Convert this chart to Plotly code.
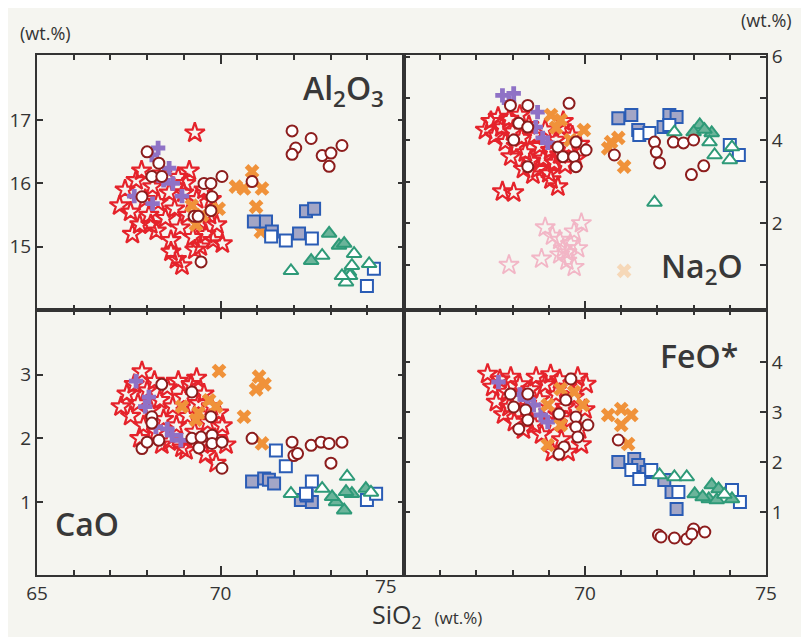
import plotly.graph_objects as go

# ---------------- data ----------------
# Al2O3 panel
al_star = [(67.25,15.65),(67.4,15.9),(67.55,15.55),(67.7,16.05),(67.8,15.35),(67.85,16.2),(67.95,15.75),(68.05,15.5),
           (68.15,15.95),(68.25,15.25),(68.3,15.7),(68.4,16.15),(68.5,15.45),(68.6,15.85),(68.65,15.1),(68.75,15.6),
           (68.85,16.1),(68.9,15.3),(69.0,15.85),(69.1,15.5),(69.15,16.2),(69.25,15.15),(69.35,15.75),(69.45,15.4),
           (69.55,15.9),(69.6,15.2),(69.7,15.5),(69.8,15.1),(69.9,15.35),(70.05,15.05),(69.3,14.95),(69.45,15.0),
           (68.8,14.8),(68.65,14.92),(68.95,14.7),(69.3,16.8),(67.6,15.2),(68.1,15.35),(69.75,15.75),(69.05,16.0)]
al_purple = [(68.3,16.56),(68.13,16.45),(68.6,16.24),(68.7,16.0),(68.95,15.8),(67.65,15.8),(68.15,15.68),(68.45,16.05)]
al_orange = [(69.22,15.65),(69.95,15.6),(69.33,15.35),(69.5,15.5),(70.86,16.19),(70.64,15.92),(71.13,15.92),
             (70.97,15.63),(71.1,15.24),(70.42,15.95)]
al_circle = [(68.0,16.5),(68.32,16.32),(68.13,16.11),(68.4,16.11),(67.86,15.79),(70.04,16.11),(69.55,16.0),(69.74,16.0),
             (69.77,15.79),(69.74,15.57),(69.28,15.48),(69.39,15.48),(69.47,14.76),(70.86,16.03),
             (71.95,16.83),(72.47,16.71),(72.05,16.56),(71.95,16.46),(72.77,16.44),(73.01,16.48),(73.31,16.6),(72.96,16.27)]
al_sq_fill = [(72.33,15.56),(72.55,15.6),(70.91,15.4),(71.24,15.4),(71.4,15.24),(72.14,15.21)]
al_sq_open = [(71.38,15.16),(71.78,15.1),(72.49,15.13),(74.18,14.65),(73.99,14.38)]
al_tri_fill = [(72.96,15.21),(73.23,15.02),(73.37,15.05),(72.47,14.78),(73.5,14.6)]
al_tri_open = [(71.92,14.62),(72.77,14.86),(73.64,14.89),(73.58,14.7),(73.53,14.54),(73.42,14.44),(74.05,14.73),(73.31,14.54)]

# Na2O panel
na_star = [(67.25,4.24),(67.4,4.45),(67.5,4.1),(67.6,4.55),(67.7,4.3),(67.8,3.95),(67.9,4.5),(68.0,4.2),(68.1,3.85),
           (68.2,4.6),(68.25,4.05),(68.35,3.7),(68.45,4.35),(68.5,3.5),(68.6,4.1),(68.7,3.3),(68.75,3.85),(68.85,3.55),
           (68.9,4.25),(69.0,3.2),(69.05,3.75),(69.15,3.45),(69.2,4.0),(69.3,3.65),(69.35,4.3),(69.45,3.4),(69.55,3.85),
           (69.65,4.1),(69.75,3.55),(69.85,3.9),(68.56,3.17),(69.06,3.05),(69.25,2.88),(67.72,2.76),(68.03,2.74),
           (68.3,3.3),(67.95,3.6),(69.4,4.45)]
na_purple = [(67.72,5.07),(68.03,5.12),(68.69,4.67),(68.64,4.31),(68.83,4.05),(68.97,3.93),(67.9,4.9)]
na_orange = [(69.06,4.6),(69.33,4.48),(69.97,4.24),(70.72,3.95),(70.92,4.05),(71.08,3.36),(70.64,3.8),(69.2,4.3),(69.6,4.0)]
na_circle = [(67.94,4.83),(68.42,4.83),(68.17,4.4),(68.42,4.31),(68.03,4.0),(69.56,4.88),(69.75,3.95),(70.03,3.76),
             (69.25,3.83),(69.39,3.6),(69.69,3.6),(69.75,3.36),(68.42,3.36),(70.81,3.64),(71.92,3.95),(71.97,3.71),
             (72.06,3.45),(72.44,3.95),(72.72,3.93),(73.0,4.0),(72.94,3.17),(73.28,3.38)]
na_sq_fill = [(70.92,4.52),(71.28,4.6),(71.47,4.24),(72.17,4.31),(72.33,4.6),(72.53,4.55)]
na_sq_open = [(71.5,4.12),(71.78,4.17),(72.33,4.36),(74.0,3.88),(74.25,3.64)]
na_tri_fill = [(73.17,4.36),(73.0,4.19),(73.5,4.17),(73.3,4.25)]
na_tri_open = [(72.47,4.19),(73.44,3.95),(73.58,3.64),(74.0,3.52),(74.06,3.83),(71.92,2.5)]
na_pink = [(68.9,1.9),(69.1,1.7),(69.3,1.6),(69.4,1.4),(69.5,1.3),(69.6,1.5),(69.7,1.8),(69.8,1.4),(69.5,1.1),
           (69.9,2.0),(68.8,1.15),(67.9,1.0),(69.7,0.95),(69.3,1.25)]
na_pale = [(71.08,0.86)]

# CaO panel
ca_star = [(67.29,2.5),(67.45,2.7),(67.55,2.35),(67.65,2.85),(67.75,2.55),(67.86,3.05),(67.9,2.2),(68.0,2.75),(68.1,2.45),
           (68.2,2.9),(68.25,2.1),(68.35,2.6),(68.45,2.3),(68.55,2.8),(68.6,1.95),(68.7,2.5),(68.8,2.2),(68.85,2.9),
           (68.95,1.85),(69.0,2.65),(69.06,1.81),(69.1,2.35),(69.2,2.85),(69.3,2.1),(69.4,2.55),(69.5,1.9),(69.55,2.7),
           (69.65,2.25),(69.75,2.5),(69.85,2.0),(69.88,1.61),(69.95,2.4),(70.05,2.2),(70.15,1.9),(69.6,1.75),(68.4,1.9),
           (67.8,2.0),(69.35,2.95)]
ca_purple = [(67.7,2.9),(68.05,2.65),(68.24,2.18),(68.68,2.05),(68.92,1.97),(68.55,2.15),(67.95,2.5)]
ca_orange = [(69.96,3.06),(71.05,2.97),(70.97,2.77),(71.2,2.85),(70.64,2.34),(71.13,1.92),(68.95,2.5),(69.33,2.29),
             (69.88,2.5),(69.69,2.6),(69.4,2.4)]
ca_circle = [(68.4,2.85),(69.22,2.73),(68.13,2.34),(68.13,2.24),(67.86,1.84),(68.0,1.94),(68.32,1.97),(69.22,2.0),
             (69.41,1.85),(69.47,2.02),(69.74,2.34),(69.77,2.05),(69.77,1.92),(70.04,1.94),(70.04,1.53),(70.86,2.0),
             (71.95,1.94),(72.0,1.73),(72.1,1.76),(72.47,1.89),(72.74,1.94),(72.96,1.92),(73.31,1.94),(73.01,1.61)]
ca_sq_fill = [(70.86,1.32),(71.19,1.37),(71.32,1.35),(71.46,1.29),(72.19,1.03),(72.49,1.0),(72.35,1.1)]
ca_sq_open = [(71.51,1.81),(71.78,1.56),(72.49,1.32),(73.99,1.03),(74.24,1.13),(72.33,1.13)]
ca_tri_fill = [(73.37,0.87),(73.15,1.0),(73.58,1.13),(73.96,1.21),(73.04,1.08),(73.42,1.16)]
ca_tri_open = [(71.92,1.13),(73.45,1.4),(72.77,1.21),(74.1,1.15)]

# FeO* panel
fe_star = [(67.31,3.76),(67.45,3.5),(67.55,3.2),(67.65,3.65),(67.75,2.95),(67.85,3.4),(67.95,3.7),(68.05,2.8),(68.1,3.25),
           (68.2,3.55),(68.3,2.65),(68.4,3.1),(68.5,3.45),(68.6,2.75),(68.65,3.7),(68.75,3.25),(68.8,2.55),(68.9,3.55),
           (69.0,3.0),(69.05,3.75),(69.15,2.75),(69.2,3.35),(69.3,3.65),(69.35,2.45),(69.45,3.1),(69.5,3.5),(69.53,2.2),
           (69.6,2.85),(69.7,3.3),(69.8,3.7),(69.85,2.65),(70.03,3.56),(70.0,3.05),(69.9,2.35),(69.1,2.2),(68.4,2.85),
           (67.9,3.1),(69.25,2.95)]
fe_purple = [(67.61,3.6),(68.58,3.14),(68.78,2.94),(68.97,2.8),(68.2,3.35),(68.4,3.25)]
fe_orange = [(68.97,3.14),(69.33,3.46),(69.94,3.14),(69.33,2.74),(68.97,2.34),(70.64,2.94),(71.0,3.06),(71.28,2.94),
             (71.0,2.74),(71.19,2.36),(69.7,3.4)]
fe_circle = [(67.94,3.36),(68.42,3.36),(68.03,3.1),(68.36,3.04),(68.42,2.84),(68.17,2.66),(69.61,3.66),(69.47,3.24),
             (69.28,2.96),(69.75,2.9),(69.75,2.7),(70.08,2.74),(69.8,2.5),(69.42,2.3),(69.28,2.16),(70.92,2.44),
             (72.03,0.54),(72.1,0.5),(72.47,0.48),(72.81,0.46),(73.0,0.66),(72.95,0.56),(73.31,0.6)]
fe_sq_fill = [(70.92,2.0),(71.36,2.06),(71.47,1.94),(72.19,1.64),(72.39,1.4),(72.53,1.06),(71.7,1.8)]
fe_sq_open = [(71.28,1.84),(71.5,1.66),(71.83,1.84),(72.58,1.4),(74.06,1.44),(74.28,1.2)]
fe_tri_fill = [(73.03,1.36),(73.5,1.54),(73.69,1.46),(73.42,1.26),(73.64,1.24),(74.06,1.26),(73.25,1.3)]
fe_tri_open = [(72.06,1.74),(72.47,1.7),(72.81,1.7),(73.85,1.35)]

x_range = [65, 75]
y_ranges = {"al": [14.0, 18.03], "na": [-0.08, 6.04], "ca": [-0.15, 4.02], "fe": [-0.26, 5.04]}

# ---------------- styles ----------------
INK = "#333333"
BG = "#f5f5f0"
STYLES = {
    "pink":     dict(symbol="star-open", size=15, color="#f2b6c6", line=dict(width=1.8, color="#f2b6c6")),
    "pale":     dict(symbol="x", size=13, color="#f6d8b8", line=dict(width=0)),
    "star":     dict(symbol="star-open", size=15, color="#e5232b", line=dict(width=2.2, color="#e5232b")),
    "purple":   dict(symbol="cross", size=12, color="#8f72c6", line=dict(width=0)),
    "orange":   dict(symbol="x", size=13, color="#f0923a", line=dict(width=0)),
    "sq_fill":  dict(symbol="square", size=12, color="#a3a6c6", line=dict(width=2, color="#2a5cb5")),
    "sq_open":  dict(symbol="square", size=12, color="white", line=dict(width=2, color="#2a5cb5")),
    "tri_fill": dict(symbol="triangle-up", size=13, color="#6bb49a", line=dict(width=2, color="#2e9a78")),
    "tri_open": dict(symbol="triangle-up", size=13, color="white", line=dict(width=2, color="#2e9a78")),
    "circle":   dict(symbol="circle", size=11, color="white", line=dict(width=2, color="#8c1d1d")),
}

panels = {
    "al": ("x", "y", {"star": al_star, "purple": al_purple, "orange": al_orange, "sq_fill": al_sq_fill,
                      "sq_open": al_sq_open, "tri_fill": al_tri_fill, "tri_open": al_tri_open, "circle": al_circle}),
    "na": ("x2", "y2", {"pink": na_pink, "pale": na_pale, "star": na_star, "purple": na_purple, "orange": na_orange,
                        "sq_fill": na_sq_fill, "sq_open": na_sq_open, "tri_fill": na_tri_fill,
                        "tri_open": na_tri_open, "circle": na_circle}),
    "ca": ("x3", "y3", {"star": ca_star, "purple": ca_purple, "orange": ca_orange, "sq_fill": ca_sq_fill,
                        "sq_open": ca_sq_open, "tri_fill": ca_tri_fill, "tri_open": ca_tri_open, "circle": ca_circle}),
    "fe": ("x4", "y4", {"star": fe_star, "purple": fe_purple, "orange": fe_orange, "sq_fill": fe_sq_fill,
                        "sq_open": fe_sq_open, "tri_fill": fe_tri_fill, "tri_open": fe_tri_open, "circle": fe_circle}),
}

fig = go.Figure()
for key, (xa, ya, groups) in panels.items():
    for name, pts in groups.items():
        xs, ys = zip(*pts)
        fig.add_trace(go.Scatter(x=list(xs), y=list(ys), mode="markers", xaxis=xa, yaxis=ya,
                                 marker=STYLES[name], showlegend=False, hoverinfo="skip"))

# ---------------- layout ----------------
OFF = 8                      # page body margin offset
W, H = 809 - OFF, 637 - OFF
L, R, T, B = 37 - OFF, 766 - OFF, 55 - OFF, 575 - OFF
xmid, ymid = 404 - OFF, 310 - OFF
xs_split = (xmid - L) / (R - L)
ys_split = (B - ymid) / (B - T)
FAMILY = "Open Sans, Noto Sans, sans-serif"
TICKFONT = dict(family=FAMILY, size=19, color=INK)


def xaxis(domain, anchor, labels):
    d = dict(domain=domain, anchor=anchor, range=x_range, showgrid=False, zeroline=False, automargin=False,
             showline=True, linecolor=INK, linewidth=2, mirror="allticks",
             ticks="inside", ticklen=9, tickwidth=1.5, tickcolor=INK,
             tickvals=[65, 70, 75], tickfont=TICKFONT,
             minor=dict(ticks="inside", ticklen=5, tickwidth=1.5, tickcolor=INK, dtick=1, tick0=65, showgrid=False))
    if labels is None:
        d["showticklabels"] = False
    else:
        d["ticktext"] = labels
    return d


def yaxis(domain, anchor, rng, vals, text, side):
    return dict(domain=domain, anchor=anchor, range=rng, side=side, showgrid=False, zeroline=False, automargin=False,
                showline=True, linecolor=INK, linewidth=2, mirror="allticks",
                ticks="inside", ticklen=6, tickwidth=1.5, tickcolor=INK,
                tickvals=vals, ticktext=text, tickfont=TICKFONT)


fig.update_layout(
    width=W, height=H, paper_bgcolor=BG, plot_bgcolor=BG,
    margin=dict(l=L, r=W - R, t=T, b=H - B, autoexpand=False),
    xaxis=xaxis([0, xs_split], "y", None),
    xaxis2=xaxis([xs_split, 1], "y2", None),
    xaxis3=xaxis([0, xs_split], "y3", ["65", "70", " "]),
    xaxis4=xaxis([xs_split, 1], "y4", [" ", "70", "75"]),
    yaxis=yaxis([ys_split, 1], "x", y_ranges["al"], [15, 16, 17], ["15", "16", "17"], "left"),
    yaxis2=yaxis([ys_split, 1], "x2", y_ranges["na"], [1, 2, 3, 4, 5, 6], [" ", "2", " ", "4", " ", "6"], "right"),
    yaxis3=yaxis([0, ys_split], "x3", y_ranges["ca"], [1, 2, 3], ["1", "2", "3"], "left"),
    yaxis4=yaxis([0, ys_split], "x4", y_ranges["fe"], [1, 2, 3, 4], ["1", "2", "3", "4"], "right"),
)


def px_to_paper(px, py):
    # px, py in reference-picture pixels
    return (px - OFF - L) / (R - L), (B - (py - OFF)) / (B - T)


LABELFONT = dict(family=FAMILY, size=32, color="#383838", weight=600)
SMALLFONT = dict(family=FAMILY, size=18, color=INK)

annos = [
    (45, 33, "(wt.%)", SMALLFONT, "center"),
    (766, 20, "(wt.%)", SMALLFONT, "center"),
    (386, 586, "75", TICKFONT, "center"),
    (386, 90, "Al<sub>2</sub>O<sub>3</sub>", LABELFONT, "right"),
    (745, 268, "Na<sub>2</sub>O", LABELFONT, "right"),
    (53, 523, "CaO", LABELFONT, "left"),
    (740, 355, "FeO*", LABELFONT, "right"),
    (370, 615, "SiO<sub>2</sub>  <span style='font-size:17px'>(wt.%)</span>",
     dict(family=FAMILY, size=25, color=INK), "left"),
]
for px, py, text, font, anchor in annos:
    ax, ay = px_to_paper(px, py)
    fig.add_annotation(x=ax, y=ay, xref="paper", yref="paper", text=text, showarrow=False,
                       font=font, xanchor=anchor, yanchor="middle")

fig.write_html("out.html")
